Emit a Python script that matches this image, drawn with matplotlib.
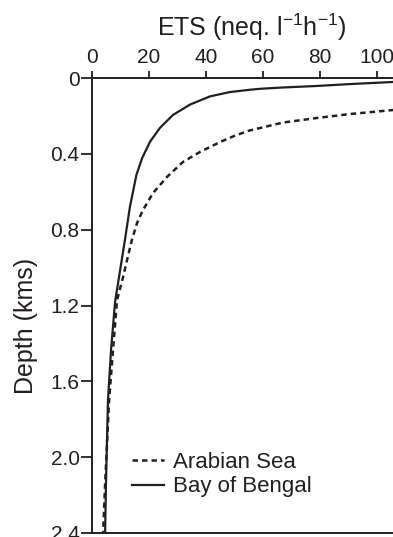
import matplotlib
matplotlib.use("Agg")
import matplotlib.pyplot as plt

plt.rcParams['font.family'] = ['Liberation Sans', 'DejaVu Sans']
plt.rcParams['mathtext.fontset'] = 'custom'
plt.rcParams['mathtext.rm'] = 'Liberation Sans'
plt.rcParams['mathtext.default'] = 'regular'

# Data
bob_ets = [120, 105.6, 90.5, 78.9, 67.0, 58.9, 55.4, 48.4, 41.4, 34.4, 28.4, 23.9, 20.4,
           17.6, 15.6, 13.3, 11.6, 9.8, 8.1, 6.7, 5.6, 4.9, 4.6]
bob_depth = [0.016, 0.021, 0.032, 0.042, 0.050, 0.057, 0.062, 0.074, 0.097, 0.140, 0.195, 0.262, 0.335,
             0.422, 0.510, 0.680, 0.850, 1.02, 1.18, 1.43, 1.70, 2.14, 2.40]

as_ets = [120, 105.6, 90.5, 78.9, 67.0, 55.0, 50.0, 44.9, 37.9, 31.9, 26.3, 21.4, 17.9, 15.8,
          14.0, 12.3, 10.9, 8.8, 7.4, 6.0, 4.6, 3.9]
as_depth = [0.160, 0.169, 0.190, 0.211, 0.235, 0.278, 0.305, 0.338, 0.390, 0.443, 0.522, 0.607, 0.696, 0.765,
            0.854, 0.960, 1.05, 1.17, 1.43, 1.70, 2.14, 2.40]

x_ticks = [0, 20, 40, 60, 80, 100]
y_ticks = [0, 0.4, 0.8, 1.2, 1.6, 2.0, 2.4]
y_ticklabels = ['0', '0.4', '0.8', '1.2', '1.6', '2.0', '2.4']

ink = '#231f20'

fig = plt.figure(figsize=(3.93, 5.37), dpi=100)
ax = fig.add_axes([92/393, 1 - 533/537, 1 - 92/393, (533 - 78)/537])

ax.plot(as_ets, as_depth, color=ink, lw=1.8, linestyle=(0, (2.2, 1.6)), label='Arabian Sea')
ax.plot(bob_ets, bob_depth, color=ink, lw=1.6, label='Bay of Bengal')

ax.set_xlim(0, 105.6)
ax.set_ylim(2.4, 0)

ax.xaxis.tick_top()
ax.xaxis.set_label_position('top')
ax.set_xticks(x_ticks)
ax.set_xticklabels([str(v) for v in x_ticks])
ax.set_yticks(y_ticks)
ax.set_yticklabels(y_ticklabels)

ax.tick_params(axis='both', direction='out', width=1.3, color=ink,
               labelsize=15, labelcolor=ink)
ax.tick_params(axis='x', length=5, pad=3)
ax.tick_params(axis='y', length=8, pad=1)

for side in ['top', 'left', 'bottom']:
    ax.spines[side].set_linewidth(1.4)
    ax.spines[side].set_color(ink)
ax.spines['right'].set_visible(False)

ax.set_xlabel('ETS (neq. l$^{-1}$h$^{-1}$)', fontsize=18, color=ink)
ax.xaxis.set_label_coords(0.53, 1.092)
ax.set_ylabel('Depth (kms)', fontsize=18, color=ink)
ax.yaxis.set_label_coords(-0.18, 0.455)

ax.legend(loc='center left', bbox_to_anchor=(0.133, 0.128), frameon=False,
          fontsize=16, handlelength=1.45, handletextpad=0.4, labelspacing=0.15,
          borderpad=0, borderaxespad=0, labelcolor=ink)

fig.savefig('out.png', dpi=100)
